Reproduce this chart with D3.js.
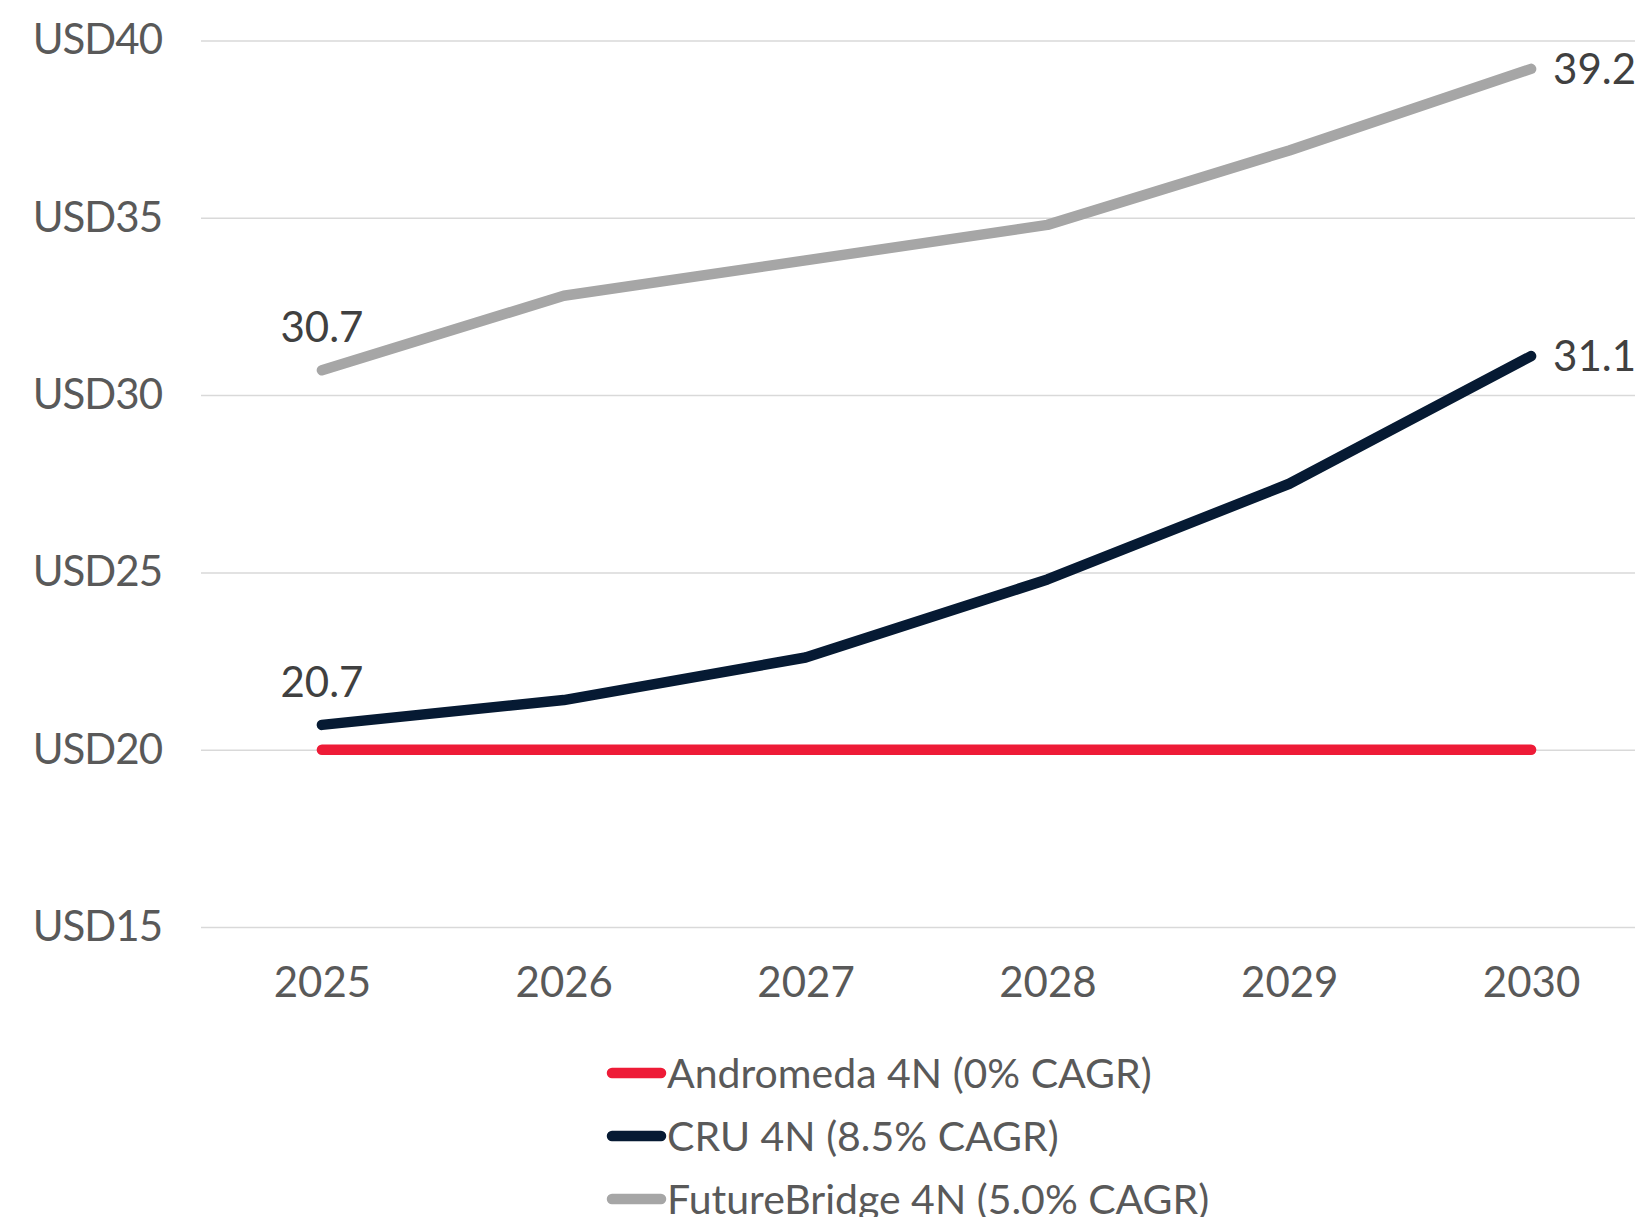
<!DOCTYPE html>
<html>
<head>
<meta charset="utf-8">
<script src="https://cdn.jsdelivr.net/npm/d3@7"></script>
<style>
  body { margin: 0; background: #fff; }
  svg { display: block; font-family: Lato, "Open Sans", sans-serif; }
</style>
</head>
<body>
<svg id="chart" width="1635" height="1217"></svg>
<script>

var years = ["2025", "2026", "2027", "2028", "2029", "2030"]
var andromeda = [20, 20, 20, 20, 20, 20]
var cru = [20.7, 21.4, 22.6, 24.8, 27.5, 31.1]
var futureBridge = [30.7, 32.8, 33.8, 34.8, 36.9, 39.2]
var yTicks = [15, 20, 25, 30, 35, 40]
var seriesNames = ["Andromeda 4N (0% CAGR)", "CRU 4N (8.5% CAGR)", "FutureBridge 4N (5.0% CAGR)"]
var seriesColors = ["#ee1b37", "#061a33", "#a6a6a6"]

var svg = d3.select("#chart")

// plot area (the original picture is cropped on the right)
var plotLeft = 201, plotRight = 1652, plotTop = 40.5, plotBottom = 927

var x = d3.scalePoint().domain(years).range([plotLeft, plotRight]).padding(0.5)
var y = d3.scaleLinear().domain([15, 40]).range([plotBottom, plotTop])

// y axis + gridlines
var yAxis = svg.append("g")
    .attr("transform", "translate(" + plotLeft + ",0)")
    .call(d3.axisLeft(y)
        .tickValues(yTicks)
        .tickSize(-(plotRight - plotLeft))
        .tickPadding(39)
        .tickFormat(function (d) { return "USD" + d; }))
yAxis.select(".domain").remove()
yAxis.selectAll(".tick line").attr("stroke", "#d9d9d9").attr("stroke-width", 1.5)
yAxis.selectAll(".tick text")
    .attr("fill", "#595959")
    .style("font-size", "42px")
    .style("letter-spacing", "-1px")
    .style("font-family", "Lato, sans-serif")

// x axis
var xAxis = svg.append("g")
    .attr("transform", "translate(0," + plotBottom + ")")
    .call(d3.axisBottom(x).tickSize(0).tickPadding(40))
xAxis.select(".domain").remove()
xAxis.selectAll(".tick text")
    .attr("fill", "#595959")
    .style("font-size", "42px")
    .style("font-family", "Lato, sans-serif")

var series = [andromeda, cru, futureBridge]

var line = d3.line()
    .x(function (d, i) { return x(years[i]); })
    .y(function (d) { return y(d); })

// draw grey first, then navy, then red on top
;[2, 1, 0].forEach(function (k) {
    svg.append("path")
        .datum(series[k])
        .attr("d", line)
        .attr("fill", "none")
        .attr("stroke", seriesColors[k])
        .attr("stroke-width", 10.5)
        .attr("stroke-linecap", "round")
        .attr("stroke-linejoin", "round")
})

// data labels: first value above, last value to the right
;[1, 2].forEach(function (k) {
    var s = series[k]
    svg.append("text")
        .attr("x", x(years[0]))
        .attr("y", y(s[0]) - 28)
        .attr("text-anchor", "middle")
        .attr("fill", "#404040")
        .style("font-size", "42px")
        .text(s[0].toFixed(1))
    svg.append("text")
        .attr("x", x(years[years.length - 1]) + 22)
        .attr("y", y(s[s.length - 1]) + 15)
        .attr("fill", "#404040")
        .style("font-size", "42px")
        .text(s[s.length - 1].toFixed(1))
})

// legend
var legend = svg.append("g").attr("transform", "translate(607,1073)")
seriesNames.forEach(function (name, i) {
    var g = legend.append("g").attr("transform", "translate(0," + (i * 63) + ")")
    g.append("line")
        .attr("x1", 5).attr("x2", 54)
        .attr("y1", 0).attr("y2", 0)
        .attr("stroke", seriesColors[i])
        .attr("stroke-width", 10.5)
        .attr("stroke-linecap", "round")
    g.append("text")
        .attr("x", 60)
        .attr("y", 15)
        .attr("fill", "#595959")
        .style("font-size", "41px")
        .text(name)
})

</script>
</body>
</html>
